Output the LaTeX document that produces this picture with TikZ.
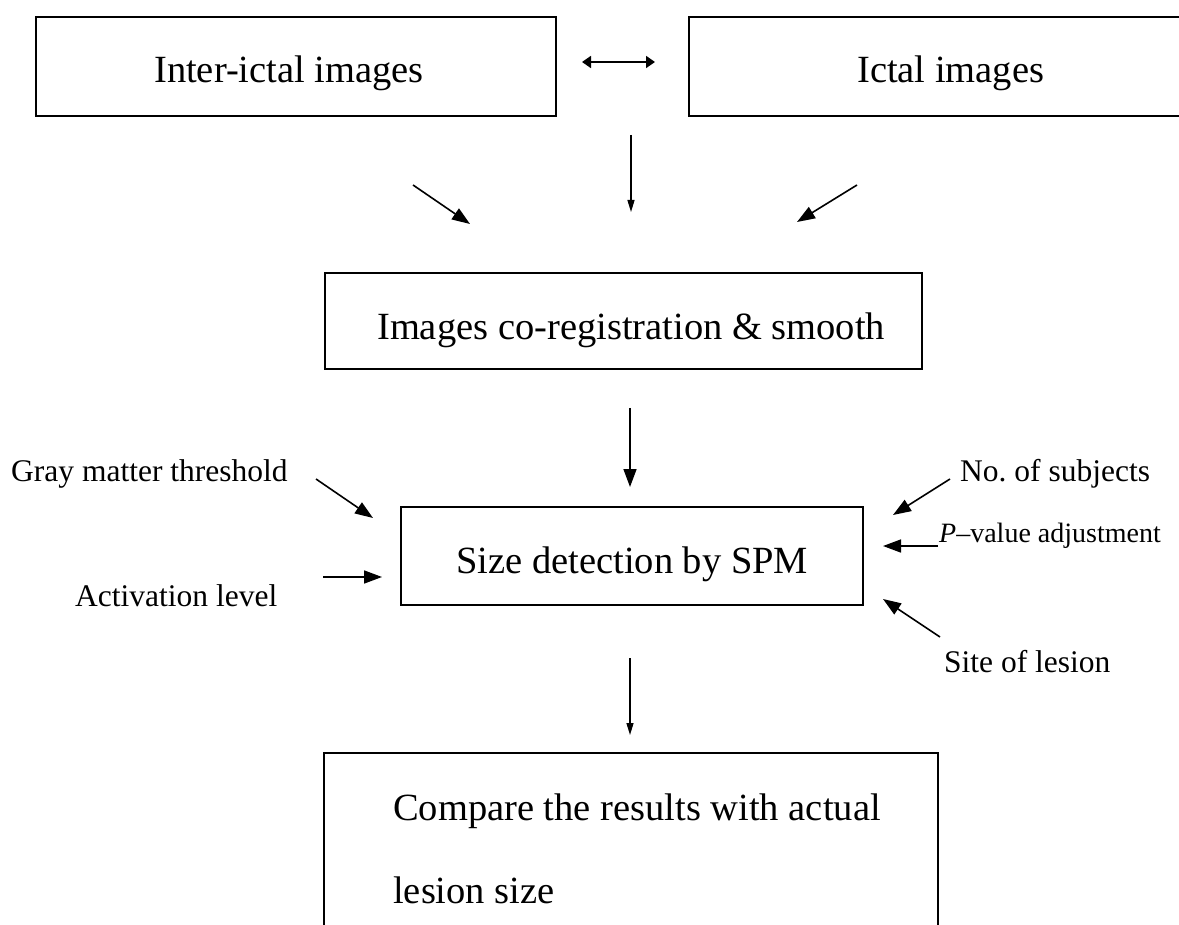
\documentclass[tikz,border=0pt]{standalone}
\usepackage{fontspec}
\setmainfont{Liberation Serif}
\usetikzlibrary{arrows.meta}
\tikzset{
  boxshape/.style={draw, line width=1.6pt, inner sep=0pt},
  maintext/.style={anchor=base west, inner sep=0pt, font=\fontsize{38.5}{46}\selectfont},
  sidetext/.style={anchor=base west, inner sep=0pt, font=\fontsize{31.5}{38}\selectfont},
  smalltext/.style={anchor=base west, inner sep=0pt, font=\fontsize{28}{34}\selectfont},
  bigarrow/.style={line width=1.6pt, -{Triangle[length=18pt,width=13pt]}},
  thinarrow/.style={line width=1.3pt, -{Triangle[length=12pt,width=7pt]}},
  dblarrow/.style={line width=1.8pt, {Triangle[length=9pt,width=12pt]}-{Triangle[length=9pt,width=12pt]}}
}
\begin{document}
\frenchspacing
\begin{tikzpicture}[x=1pt,y=-1pt]
\useasboundingbox (0,0) rectangle (1179,925);
\clip (0,0) rectangle (1179,925);

% boxes
\node[boxshape, minimum width=520pt, minimum height=99pt] (inter) at (296,66.5) {};
\node[boxshape, minimum width=561pt, minimum height=99pt] (ictal) at (969.5,66.5) {};
\node[boxshape, minimum width=597pt, minimum height=96pt] (coreg) at (623.5,321) {};
\node[boxshape, minimum width=462pt, minimum height=98pt] (spm) at (632,556) {};
\node[boxshape, minimum width=614pt, minimum height=260pt] (comp) at (631,883) {};

% box texts
\node[maintext] (tinter) at (154,83) {Inter-ictal images};
\node[maintext] (tictal) at (857,83) {Ictal images};
\node[maintext] (tcoreg) at (377,340) {Images co-registration \& smooth};
\node[maintext] (tspm) at (456,573) {Size detection by SPM};
\node[maintext] (tcomp1) at (393,820) {Compare the results with actual};
\node[maintext] (tcomp2) at (393,903) {lesion size};

% side labels
\node[sidetext] (gray) at (11,482) {Gray matter threshold};
\node[sidetext] (act) at (75,606) {Activation level};
\node[sidetext] (nsub) at (960,482) {No.\ of subjects};
\node[smalltext] (pval) at (939,542) {\textit{P}--value adjustment};
\node[sidetext] (site) at (944,672) {Site of lesion};

% connector end points
\coordinate (dA) at (582,62);
\coordinate (dB) at (655,62);
\coordinate (v1s) at (631,135);
\coordinate (v1e) at (631,212);
\coordinate (l1s) at (413,185);
\coordinate (l1e) at (470,224);
\coordinate (r1s) at (857,185);
\coordinate (r1e) at (797,222);
\coordinate (v2s) at (630,408);
\coordinate (v2e) at (630,487);
\coordinate (gs) at (316,479);
\coordinate (ge) at (373,518);
\coordinate (as) at (323,577);
\coordinate (ae) at (382,577);
\coordinate (ns) at (950,479);
\coordinate (ne) at (893,515);
\coordinate (ps) at (938,546);
\coordinate (pe) at (883,546);
\coordinate (ss) at (940,637);
\coordinate (se) at (883,599);
\coordinate (v3s) at (630,658);
\coordinate (v3e) at (630,735);

% connectors
\draw[dblarrow] (dA) -- (dB);
\draw[thinarrow] (v1s) -- (v1e);
\draw[bigarrow] (l1s) -- (l1e);
\draw[bigarrow] (r1s) -- (r1e);
\draw[bigarrow] (v2s) -- (v2e);
\draw[bigarrow] (gs) -- (ge);
\draw[bigarrow] (as) -- (ae);
\draw[bigarrow] (ns) -- (ne);
\draw[bigarrow] (ps) -- (pe);
\draw[bigarrow] (ss) -- (se);
\draw[thinarrow] (v3s) -- (v3e);
\end{tikzpicture}
\end{document}
